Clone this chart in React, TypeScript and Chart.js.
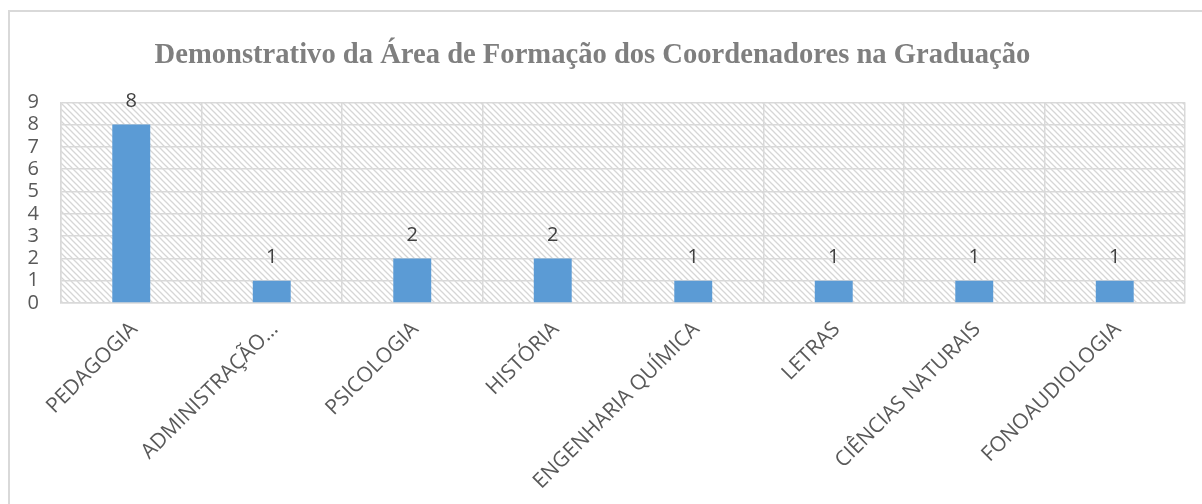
import React, { useEffect, useRef } from "react";
import { Chart, registerables } from "chart.js";

Chart.register(...registerables);

const chartTitle = "Demonstrativo da Área de Formação dos Coordenadores na Graduação";
const categories = [
  "PEDAGOGIA",
  "ADMINISTRAÇÃO…",
  "PSICOLOGIA",
  "HISTÓRIA",
  "ENGENHARIA QUÍMICA",
  "LETRAS",
  "CIÊNCIAS NATURAIS",
  "FONOAUDIOLOGIA",
];
const values = [8, 1, 2, 2, 1, 1, 1, 1];
const yMin = 0;
const yMax = 9;
const yStep = 1;

const GRID = "#d9d9d9";
const TEXT = "#595959";
const BAR = "#5b9bd5";

function makePattern(ctx: CanvasRenderingContext2D) {
  const size = 6;
  const c = document.createElement("canvas");
  c.width = size;
  c.height = size;
  const p = c.getContext("2d")!;
  p.fillStyle = "#ffffff";
  p.fillRect(0, 0, size, size);
  p.strokeStyle = "#d6d6d6";
  p.lineWidth = 1.3;
  p.beginPath();
  p.moveTo(-1, -1);
  p.lineTo(size + 1, size + 1);
  p.moveTo(-1, size - 1);
  p.lineTo(1, size + 1);
  p.moveTo(size - 1, -1);
  p.lineTo(size + 1, 1);
  p.stroke();
  return ctx.createPattern(c, "repeat");
}

const hatchPlugin = {
  id: "hatch",
  beforeDraw(chart: any) {
    const { ctx, chartArea } = chart;
    if (!chartArea) return;
    ctx.save();
    const pat = makePattern(ctx);
    if (pat) {
      ctx.fillStyle = pat;
      ctx.fillRect(chartArea.left, chartArea.top, chartArea.right - chartArea.left, chartArea.bottom - chartArea.top);
    }
    ctx.restore();
  },
};

const labelPlugin = {
  id: "barLabels",
  afterDatasetsDraw(chart: any) {
    const { ctx } = chart;
    const meta = chart.getDatasetMeta(0);
    ctx.save();
    ctx.font = "20px 'Open Sans'";
    ctx.fillStyle = "#404040";
    ctx.textAlign = "center";
    ctx.textBaseline = "middle";
    meta.data.forEach((bar: any, i: number) => {
      ctx.fillText(String(values[i]), bar.x, bar.y - 23);
    });
    ctx.restore();
  },
};

export default function App() {
  const ref = useRef<HTMLCanvasElement | null>(null);

  useEffect(() => {
    if (!ref.current) return;
    const chart = new Chart(ref.current, {
      type: "bar",
      data: {
        labels: categories,
        datasets: [
          {
            data: values,
            backgroundColor: BAR,
            borderWidth: 0,
            categoryPercentage: 1,
            barPercentage: 0.27,
          },
        ],
      },
      options: {
        responsive: false,
        animation: false,
        layout: { padding: { left: 0, right: 17, top: 0, bottom: 0 } },
        plugins: {
          legend: { display: false },
          tooltip: { enabled: false },
          title: {
            display: true,
            text: chartTitle,
            color: "#7f7f7f",
            font: { family: "'Liberation Serif'", size: 28.6, weight: "bold" },
            padding: { top: 38, bottom: 30 },
          },
        },
        scales: {
          x: {
            grid: { color: GRID, lineWidth: 1.5, drawTicks: false, offset: true },
            border: { color: GRID, width: 1.5 },
            ticks: {
              minRotation: 45,
              maxRotation: 45,
              autoSkip: false,
              color: TEXT,
              font: { family: "'Open Sans'", size: 21 },
              padding: 14,
              labelOffset: 3,
            },
            afterFit(s: any) {
              s.height = 201;
            },
          },
          y: {
            min: yMin,
            max: yMax,
            grid: { color: GRID, lineWidth: 1.5, drawTicks: false },
            border: { color: GRID, width: 1.5 },
            ticks: {
              stepSize: yStep,
              autoSkip: false,
              color: TEXT,
              font: { family: "'Open Sans'", size: 20, lineHeight: 1 },
              padding: 22,
            },
            afterFit(s: any) {
              s.width = 61;
            },
          },
        },
      },
      plugins: [hatchPlugin, labelPlugin],
    });
    return () => chart.destroy();
  }, []);

  return (
    <div style={{ position: "fixed", left: 0, top: 0, width: 1202, height: 504, overflow: "hidden", background: "#fff" }}>
      <div
        style={{
          position: "absolute",
          left: 8,
          top: 10,
          width: 1400,
          height: 700,
          borderTop: "2px solid #d9d9d9",
          borderLeft: "2px solid #d9d9d9",
        }}
      />
      <canvas ref={ref} width={1202} height={504} style={{ position: "absolute", left: 0, top: 0, width: 1202, height: 504 }} />
    </div>
  );
}
